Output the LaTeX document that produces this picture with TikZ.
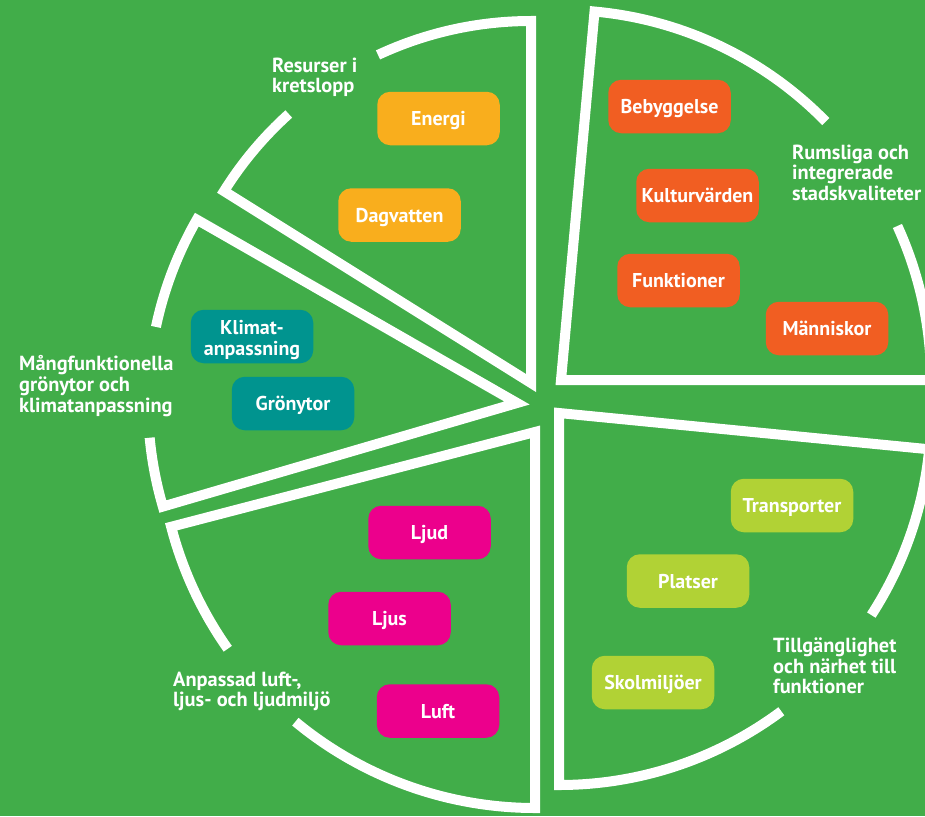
\documentclass[tikz,border=0pt]{standalone}
\usepackage{fontspec}
\setmainfont{PT Sans}
\definecolor{bggreen}{HTML}{41AD49}
\definecolor{cOrange}{HTML}{F9AE1D}
\definecolor{cRed}{HTML}{F15E22}
\definecolor{cTeal}{HTML}{00948F}
\definecolor{cMagenta}{HTML}{EC008C}
\definecolor{cLime}{HTML}{B1D235}
\tikzset{
  wedgeline/.style={draw=white, line width=10pt, line join=miter, line cap=butt, miter limit=20},
  tag/.style={fill=#1, rounded corners=13pt, minimum width=122.5pt, minimum height=53.5pt,
    inner sep=0pt, text=white, font=\fontsize{20}{20.7}\selectfont\bfseries,
    text height=14pt, text depth=0pt},
  tagtext/.style={inner sep=0pt, text=white, align=center, font=\fontsize{20}{20.7}\selectfont\bfseries},
  lbl/.style={anchor=north west, align=left, inner sep=0pt, text=white,
    font=\fontsize{20.4}{20.7}\selectfont\bfseries}
}
\begin{document}
\begin{tikzpicture}[x=1pt,y=-1pt]
\useasboundingbox (0,0) rectangle (925,816);
\clip (0,0) rectangle (925,816);
\fill[bggreen] (0,0) rectangle (925,816);

% apexes of the exploded pie (five wedges)
\coordinate (A1) at (531,383);
\coordinate (A2) at (561,380);
\coordinate (A3) at (517,403);
\coordinate (A4) at (535,432);
\coordinate (A5) at (559,413);

% wedge 1: Resurser i kretslopp
\draw[wedgeline] (A1) ++(-132:362) arc[start angle=-132, end angle=-148, radius=362]
  -- (A1) -- ++(-90:362) arc[start angle=-90, end angle=-115, radius=362];
% wedge 2: Rumsliga och integrerade stadskvaliteter
\draw[wedgeline] (A2) ++(-44.3:370) arc[start angle=-44.3, end angle=-84.8, radius=370]
  -- (A2) -- ++(0:370) arc[start angle=0, end angle=-24.6, radius=370];
% wedge 3: Mångfunktionella grönytor
\draw[wedgeline] (A3) ++(-168.1:369) arc[start angle=-168.1, end angle=-150.2, radius=369]
  -- (A3) -- ++(-196.3:369) arc[start angle=-196.3, end angle=-185.4, radius=369];
% wedge 4: Anpassad luft-, ljus- och ljudmiljö
\draw[wedgeline] (A4) ++(-215.2:376) arc[start angle=-215.2, end angle=-194.6, radius=376]
  -- (A4) -- ++(-270:376) arc[start angle=-270, end angle=-230.4, radius=376];
% wedge 5: Tillgänglighet
\draw[wedgeline] (A5) ++(53.3:372) arc[start angle=53.3, end angle=90, radius=372]
  -- (A5) -- ++(5.6:372) arc[start angle=5.6, end angle=32.9, radius=372];

% boxes
\node[tag=cOrange] (energi) at (438.5,118.5) {Energi};
\node[tag=cOrange] (dagvatten) at (399.5,215) {Dagvatten};
\node[tag=cTeal] (klimat) at (252,336.5) {};
\node[tagtext, yshift=-3.3pt] (klimattext) at (klimat.center) {Klimat-\\anpassning};
\node[tag=cTeal] (gronytor) at (293,403.5) {Grönytor};
\node[tag=cMagenta] (ljud) at (429.5,532.5) {Ljud};
\node[tag=cMagenta] (ljus) at (389.5,618.5) {Ljus};
\node[tag=cMagenta] (luft) at (438,711) {Luft};
\node[tag=cRed] (bebyggelse) at (669.5,106.5) {Bebyggelse};
\node[tag=cRed] (kultur) at (697.5,195.5) {Kulturvärden};
\node[tag=cRed] (funktioner) at (678.5,280.5) {Funktioner};
\node[tag=cRed] (manniskor) at (827,328.5) {Människor};
\node[tag=cLime] (transporter) at (792,505.5) {Transporter};
\node[tag=cLime] (platser) at (688,581) {Platser};
\node[tag=cLime] (skol) at (653,682.5) {Skolmiljöer};

% labels
\node[lbl] (l1) at (272,57.5) {Resurser i\\kretslopp};
\node[lbl] (l2) at (792,144.5) {Rumsliga och\\integrerade\\stadskvaliteter};
\node[lbl] (l3) at (19,355.5) {Mångfunktionella\\grönytor och\\klimatanpassning};
\node[lbl] (l4) at (173,671.5) {Anpassad luft-,\\ljus- och ljudmiljö};
\node[lbl] (l5) at (773,637.5) {Tillgänglighet\\och närhet till\\funktioner};
\end{tikzpicture}
\end{document}
